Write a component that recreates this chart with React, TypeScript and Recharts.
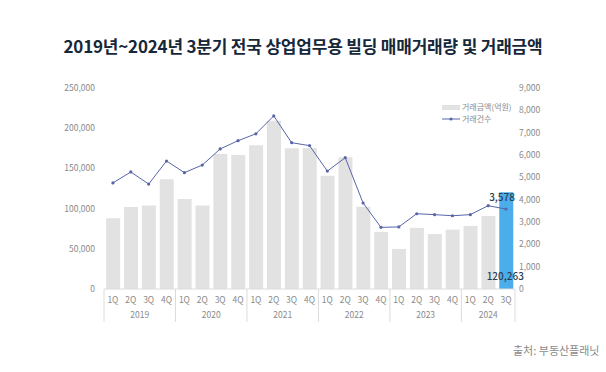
import { ComposedChart, Bar, Line, XAxis, YAxis, Cell, LabelList } from "recharts";

const quarters = ["1Q", "2Q", "3Q", "4Q", "1Q", "2Q", "3Q", "4Q", "1Q", "2Q", "3Q", "4Q", "1Q", "2Q", "3Q", "4Q", "1Q", "2Q", "3Q", "4Q", "1Q", "2Q", "3Q"];
const years = ["2019", "2019", "2019", "2019", "2020", "2020", "2020", "2020", "2021", "2021", "2021", "2021", "2022", "2022", "2022", "2022", "2023", "2023", "2023", "2023", "2024", "2024", "2024"];

// 거래금액(억원)
const amounts = [88000, 102000, 104000, 136500, 112000, 104000, 168000, 166700, 178700, 209300, 175000, 175500, 141000, 163800, 102400, 71000, 49800, 76000, 68400, 73800, 78400, 90800, 120263];
// 거래건수
const counts = [4750, 5240, 4700, 5730, 5210, 5550, 6270, 6640, 6950, 7750, 6550, 6420, 5280, 5880, 3850, 2760, 2780, 3370, 3330, 3280, 3330, 3730, 3578];

const leftTicks = [0, 50000, 100000, 150000, 200000, 250000];
const rightTicks = [0, 1000, 2000, 3000, 4000, 5000, 6000, 7000, 8000, 9000];

const data = quarters.map((q, i) => ({
  key: `${years[i]}-${q}`,
  quarter: q,
  year: years[i],
  amount: amounts[i],
  count: counts[i],
}));

const FONT = "'Noto Sans CJK KR', 'Noto Sans', sans-serif";
const LINE_COLOR = "#5866a8";
const LAST = data.length - 1;

function QuarterTick(props: any) {
  const { x, y, payload, index } = props;
  const half = payload && payload.offset ? payload.offset : 9;
  const year = years[index];
  const isFirst = index === 0 || years[index - 1] !== year;
  const isLast = index === years.length - 1;
  let groupLen = 0;
  if (isFirst) {
    for (let i = index; i < years.length && years[i] === year; i++) groupLen++;
  }
  return (
    <g>
      <text x={x} y={y + 14} textAnchor="middle" fill="#8a8a8a" fontSize={8.5} fontFamily={FONT}>
        {quarters[index]}
      </text>
      {isFirst && (
        <>
          <line x1={x - half} x2={x - half} y1={y} y2={y + 33} stroke="#dcdcdc" strokeWidth={1} />
          <text x={x - half + groupLen * half} y={y + 29} textAnchor="middle" fill="#8a8a8a" fontSize={8.5} fontFamily={FONT}>
            {year}
          </text>
        </>
      )}
      {isLast && <line x1={x + half} x2={x + half} y1={y} y2={y + 33} stroke="#dcdcdc" strokeWidth={1} />}
    </g>
  );
}

const renderAmountLabel = (props: any) => {
  const { x, y, width, height, index, value } = props;
  if (index !== LAST) return null;
  return (
    <text x={x + width / 2 - 1} y={y + height - 9} textAnchor="middle" fill="#2b3d52" fontSize={10} fontWeight={500} fontFamily={FONT}>
      {Number(value).toLocaleString("en-US")}
    </text>
  );
};

const renderCountLabel = (props: any) => {
  const { x, y, index, value } = props;
  if (index !== LAST) return null;
  return (
    <text x={x - 4} y={y - 8} textAnchor="middle" fill="#2b3d52" fontSize={10} fontWeight={500} fontFamily={FONT}>
      {Number(value).toLocaleString("en-US")}
    </text>
  );
};

function LegendBox() {
  return (
    <div style={{ position: "absolute", top: 101, left: 442, fontFamily: FONT, fontSize: 8, color: "#8a8a8a", lineHeight: "12px" }}>
      <div style={{ display: "flex", alignItems: "center" }}>
        <span style={{ display: "inline-block", width: 18, height: 5, background: "#e2e2e2", marginRight: 2 }} />
        거래금액(억원)
      </div>
      <div style={{ display: "flex", alignItems: "center" }}>
        <svg width={18} height={6} style={{ marginRight: 2 }}>
          <line x1={0} x2={18} y1={3} y2={3} stroke={LINE_COLOR} strokeWidth={1} />
          <circle cx={9} cy={3} r={1.6} fill={LINE_COLOR} />
        </svg>
        거래건수
      </div>
    </div>
  );
}

export default function App() {
  const tickStyle = { fill: "#8a8a8a", fontSize: 8.5, fontFamily: FONT };
  return (
    <div style={{ position: "absolute", left: 0, top: 0, width: 606, height: 372, background: "#fff", overflow: "hidden" }}>
      <div
        style={{
          position: "absolute",
          top: 33,
          left: 0,
          width: 606,
          textAlign: "center",
          fontFamily: FONT,
          fontWeight: 700,
          fontSize: 17,
          color: "#16273a",
          letterSpacing: -0.2,
        }}
      >
        2019년~2024년 3분기 전국 상업업무용 빌딩 매매거래량 및 거래금액
      </div>
      <div style={{ position: "absolute", top: 0, left: 0 }}>
        <ComposedChart width={606} height={372} data={data} margin={{ top: 88, right: 0, bottom: 43, left: 0 }} barCategoryGap="12%">
          <XAxis
            dataKey="key"
            interval={0}
            tickLine={false}
            tickSize={0}
            tickMargin={0}
            height={40}
            axisLine={{ stroke: "#dcdcdc" }}
            tick={<QuarterTick />}
          />
          <YAxis
            yAxisId="left"
            width={104}
            domain={[0, 250000]}
            ticks={leftTicks}
            axisLine={false}
            tickLine={false}
            tickSize={0}
            tickMargin={9}
            tick={tickStyle}
            tickFormatter={(v: number) => v.toLocaleString("en-US")}
          />
          <YAxis
            yAxisId="right"
            orientation="right"
            width={91}
            domain={[0, 9000]}
            ticks={rightTicks}
            axisLine={false}
            tickLine={false}
            tickSize={0}
            tickMargin={4}
            tick={{ ...tickStyle, textAnchor: "start" }}
            tickFormatter={(v: number) => v.toLocaleString("en-US")}
          />
          <Bar yAxisId="left" dataKey="amount" fill="#e2e2e2" isAnimationActive={false}>
            {data.map((_, i) => (
              <Cell key={`c-${i}`} fill={i === LAST ? "#4baeea" : "#e2e2e2"} />
            ))}
            <LabelList dataKey="amount" content={renderAmountLabel} />
          </Bar>
          <Line
            yAxisId="right"
            dataKey="count"
            stroke={LINE_COLOR}
            strokeWidth={1}
            dot={{ r: 1.6, fill: LINE_COLOR, stroke: LINE_COLOR, strokeWidth: 0 }}
            activeDot={false}
            isAnimationActive={false}
          >
            <LabelList dataKey="count" content={renderCountLabel} />
          </Line>
        </ComposedChart>
      </div>
      <LegendBox />
      <div style={{ position: "absolute", top: 342, left: 513, fontFamily: FONT, fontSize: 11, color: "#8a8a8a" }}>
        출처: 부동산플래닛
      </div>
    </div>
  );
}
